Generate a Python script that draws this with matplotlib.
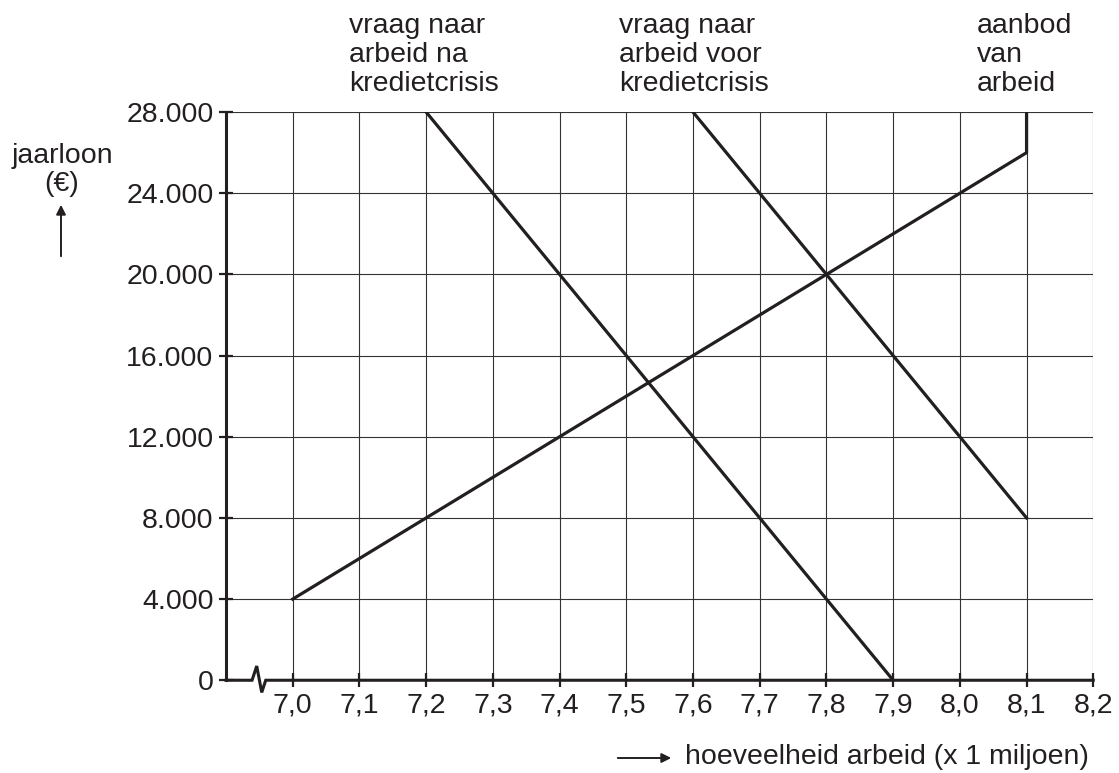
import matplotlib
matplotlib.use('Agg')
import matplotlib.pyplot as plt

plt.rcParams['font.family'] = ['Liberation Sans', 'DejaVu Sans']

# data
x_ticks = [7.0, 7.1, 7.2, 7.3, 7.4, 7.5, 7.6, 7.7, 7.8, 7.9, 8.0, 8.1, 8.2]
x_labels = ['7,0', '7,1', '7,2', '7,3', '7,4', '7,5', '7,6', '7,7', '7,8', '7,9', '8,0', '8,1', '8,2']
y_ticks = [0, 4000, 8000, 12000, 16000, 20000, 24000, 28000]
y_labels = ['0', '4.000', '8.000', '12.000', '16.000', '20.000', '24.000', '28.000']

aanbod_x = [7.0, 8.1, 8.1]
aanbod_y = [4000, 26000, 28000]
vraag_voor_x = [7.6, 8.1]
vraag_voor_y = [28000, 8000]
vraag_na_x = [7.2, 7.9]
vraag_na_y = [28000, 0]

fs = 20.5
lc = '#231f20'

fig = plt.figure(figsize=(11.19, 7.73), dpi=100)
ax = fig.add_axes([0.202, 0.120, 0.775, 0.735])

ax.set_xlim(6.9, 8.2)
ax.set_ylim(0, 28000)

# grid
for xv in x_ticks:
    ax.plot([xv, xv], [0, 28000], color='#333333', lw=0.8, zorder=1)
for yv in y_ticks[1:]:
    ax.plot([6.9, 8.2], [yv, yv], color='#333333', lw=0.8, zorder=1)

ax.plot(aanbod_x, aanbod_y, color=lc, lw=2.3, zorder=3)
ax.plot(vraag_voor_x, vraag_voor_y, color=lc, lw=2.3, zorder=3)
ax.plot(vraag_na_x, vraag_na_y, color=lc, lw=2.3, zorder=3)

# axes lines
for s in ['top', 'right', 'bottom']:
    ax.spines[s].set_visible(False)
ax.spines['left'].set_linewidth(2.2)
ax.spines['left'].set_color(lc)
# x axis with break
ax.plot([6.9, 6.939, 6.946, 6.9535, 6.9595, 8.2], [0, 0, 700, -600, 0, 0],
        color=lc, lw=2.2, clip_on=False, zorder=4, solid_joinstyle='miter')

ax.set_xticks(x_ticks)
ax.set_xticklabels(x_labels)
ax.set_yticks(y_ticks)
ax.set_yticklabels(y_labels)
ax.tick_params(axis='both', direction='inout', length=10, width=1.6, color=lc,
               labelsize=fs, labelcolor=lc)
ax.tick_params(axis='x', pad=4)
ax.tick_params(axis='y', pad=4)

# labels above
tk = dict(fontsize=fs, color=lc, va='top', ha='left', linespacing=1.16)
fig.text(349 / 1119, 1 - 13 / 773, 'vraag naar\narbeid na\nkredietcrisis', **tk)
fig.text(619 / 1119, 1 - 13 / 773, 'vraag naar\narbeid voor\nkredietcrisis', **tk)
fig.text(977 / 1119, 1 - 13 / 773, 'aanbod\nvan\narbeid', **tk)

# y label
fig.text(62 / 1119, 1 - 170 / 773, 'jaarloon\n(€)', fontsize=fs, color=lc,
         ha='center', va='center', linespacing=1.12)
fig.add_artist(matplotlib.patches.FancyArrowPatch(
    (61 / 1119, 1 - 259 / 773), (61 / 1119, 1 - 202 / 773),
    transform=fig.transFigure, arrowstyle='-|>', mutation_scale=14,
    color=lc, lw=1.4))

# x label
fig.text(685 / 1119, 1 - 757 / 773, 'hoeveelheid arbeid (x 1 miljoen)',
         fontsize=fs, color=lc, ha='left', va='center')
fig.add_artist(matplotlib.patches.FancyArrowPatch(
    (615 / 1119, 1 - 758 / 773), (674 / 1119, 1 - 758 / 773),
    transform=fig.transFigure, arrowstyle='-|>', mutation_scale=14,
    color=lc, lw=1.4))

fig.savefig('out.png', dpi=100)
